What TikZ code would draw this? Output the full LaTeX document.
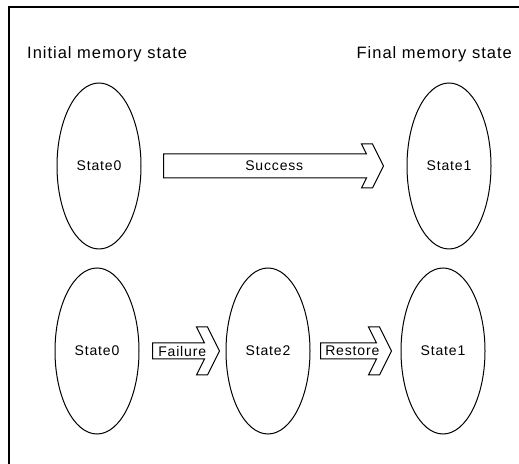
\documentclass[tikz,border=0pt]{standalone}
\usepackage{fontspec}
\setmainfont{Liberation Sans}[LetterSpace=6]
\usetikzlibrary{shapes.geometric,positioning,calc}

% block arrow: tail, tip, body half height, head half height, head width, label
\newcommand\blockarrow[6]{%
  \draw[block] ($(#1)+(0,#3)$) -- ($(#2)+(-#5-#3/2,#3)$)
    -- ($(#2)+(-#4/2-#5,#4)$) -- ($(#2)+(-#4/2,#4)$) -- (#2)
    -- ($(#2)+(-#4/2,-#4)$) -- ($(#2)+(-#4/2-#5,-#4)$)
    -- ($(#2)+(-#5-#3/2,-#3)$) -- ($(#1)+(0,-#3)$) -- cycle;
  \coordinate (#1-in) at ($(#2)+(-#5,0)$);
  \node[lbl] (#1-text) at ($(#1)!0.53!(#1-in)$) {#6};
}

\tikzset{
  mem/.style={ellipse, draw, line width=1pt, minimum width=84pt,
    minimum height=166pt, inner sep=0pt, font=\fontsize{14}{17}\selectfont},
  block/.style={draw, fill=white, line width=1pt, line join=miter},
  lbl/.style={inner sep=0pt, font=\fontsize{14}{17}\selectfont},
  title/.style={inner sep=0pt, font=\fontsize{16.5}{19}\selectfont},
}

\begin{document}
\begin{tikzpicture}[x=1pt, y=1pt]
  \useasboundingbox (0,0) rectangle (519,463);
  \clip (0,0) rectangle (519,463);
  \draw[line width=1.2pt] (9,-20) rectangle (540,456);

  \node[title, anchor=base west] (init)  at (27,404)  {Initial memory state};
  \node[title, anchor=base east] (final) at (512,404) {Final memory state};

  % success path
  \node[mem]                  (s0) at (99,297) {State0};
  \node[mem, right=265pt of s0] (s1) {State1};

  % failure path
  \node[mem, below=18pt of s0, xshift=-2pt] (f0) {State0};
  \node[mem, right=86pt of f0] (f2) {State2};
  \node[mem, right=90pt of f2] (f1) {State1};

  \coordinate (sa) at ($(s0.east)+(22,0)$);
  \coordinate (sb) at ($(s1.west)+(-23,0)$);
  \coordinate (fa) at ($(f0.east)+(13,0)$);
  \coordinate (fb) at ($(f2.west)+(-6,0)$);
  \coordinate (ra) at ($(f2.east)+(10,0)$);
  \coordinate (rb) at ($(f1.west)+(-9,0)$);

  \blockarrow{sa}{sb}{12}{22}{11}{Success}
  \blockarrow{fa}{fb}{8}{24}{11}{Failure}
  \blockarrow{ra}{rb}{8}{24}{11}{Restore}
\end{tikzpicture}
\end{document}
